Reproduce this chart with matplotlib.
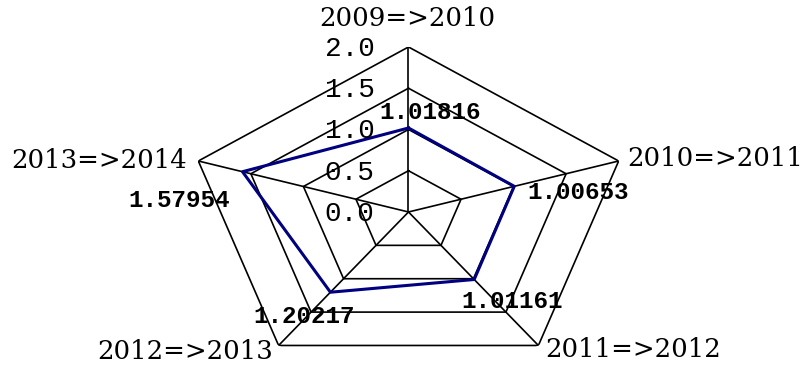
import numpy as np
import matplotlib.pyplot as plt

# data
categories = ['2009=>2010', '2010=>2011', '2011=>2012', '2012=>2013', '2013=>2014']
values = [1.01816, 1.00653, 1.01161, 1.20217, 1.57954]
levels = [0.5, 1.0, 1.5, 2.0]
tick_values = [0.0, 0.5, 1.0, 1.5, 2.0]

angles = np.linspace(0, 2 * np.pi, len(categories), endpoint=False)
closed_angles = np.append(angles, angles[0])

fig = plt.figure(figsize=(8.02, 3.67), dpi=100)
ax = fig.add_axes([0.2338, -0.0272, 0.5511, 0.8992], projection='polar')
ax.set_aspect('auto')
ax.set_theta_offset(np.pi / 2)
ax.set_theta_direction(-1)
ax.set_ylim(0, 2.0)
ax.grid(False)
ax.set_xticks([])
ax.set_yticks([])
ax.spines['polar'].set_visible(False)
ax.patch.set_visible(False)

# pentagon grid
for lvl in levels:
    ax.plot(closed_angles, [lvl] * len(closed_angles), color='black', lw=1.2, zorder=1)
for a in angles:
    ax.plot([a, a], [0, levels[-1]], color='black', lw=1.2, zorder=1)

# series
ax.plot(closed_angles, values + values[:1], color='#000080', lw=2.2, zorder=3)

# radial tick labels
for v in tick_values:
    ax.annotate(f'{v:.1f}', xy=(0, v), xytext=(-34, -2), textcoords='offset pixels',
                ha='right', va='center', fontsize=20, family='Liberation Mono',
                annotation_clip=False, zorder=4)

# category labels
cat_offsets = [(-1, 28), (9, 2), (7, -4), (-6, -6), (-11, 0)]
cat_ha = ['center', 'left', 'left', 'right', 'right']
for a, name, off, ha in zip(angles, categories, cat_offsets, cat_ha):
    ax.annotate(name, xy=(a, levels[-1]), xytext=off, textcoords='offset pixels',
                ha=ha, va='center', fontsize=18.7, family='DejaVu Serif',
                annotation_clip=False)

# value labels
val_offsets = [(21.5, 15), (64, -6), (38, -22.5), (-26, -24), (-63.5, -28.5)]
for a, v, off in zip(angles, values, val_offsets):
    ax.annotate(f'{v:.5f}', xy=(a, v), xytext=off, textcoords='offset pixels',
                ha='center', va='center', fontsize=17.5, fontweight='bold',
                family='Liberation Mono', annotation_clip=False, zorder=5)

fig.savefig('out.png', dpi=100)
